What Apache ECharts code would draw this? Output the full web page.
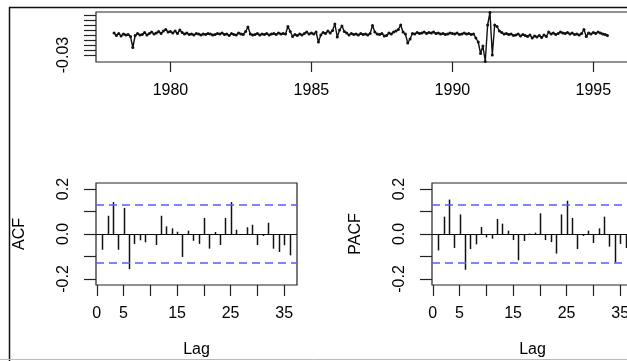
<!DOCTYPE html>
<html>
<head>
<meta charset="utf-8">
<script src="https://cdn.jsdelivr.net/npm/echarts@6/dist/echarts.min.js"></script>
<style>html,body{margin:0;padding:0;background:#fff}#c{width:627px;height:361px}</style>
</head>
<body>
<div id="c"></div>
<script>
// ---- data ----
const tsStart = 1978;
const tsFreq = 12;
const tsValues = [
  0.014, 0.009, 0.013, 0.008, 0.012, 0.010, 0.011, 0.007, -0.015, 0.009, 0.013, 0.010,
  0.011, 0.015, 0.010, 0.013, 0.016, 0.012, 0.014, 0.017, 0.013, 0.018, 0.021, 0.016,
  0.017, 0.014, 0.018, 0.013, 0.020, 0.015, 0.012, 0.014, 0.011, 0.012, 0.010, 0.013,
  0.012, 0.010, 0.012, 0.011, 0.013, 0.012, 0.010, 0.011, 0.013, 0.012, 0.014, 0.011,
  0.012, 0.009, 0.013, 0.011, 0.010, 0.014, 0.012, 0.011, 0.017, 0.026, 0.012, 0.010,
  0.011, 0.013, 0.010, 0.012, 0.011, 0.013, 0.010, 0.012, 0.013, 0.011, 0.014, 0.012,
  0.013, 0.012, 0.027, 0.017, 0.007, 0.011, 0.009, 0.012, 0.010, 0.013, 0.016, 0.012,
  0.014, 0.012, 0.016, -0.004, 0.010, 0.015, 0.013, 0.018, 0.014, 0.019, 0.032, 0.006,
  0.020, 0.028, 0.017, 0.014, 0.010, 0.013, 0.011, 0.012, 0.010, 0.013, 0.011, 0.012,
  0.010, 0.013, 0.029, 0.016, 0.012, 0.011, 0.013, 0.008, 0.009, 0.014, 0.012, 0.016,
  0.018, 0.021, 0.030, 0.016, 0.012, -0.006, 0.002, 0.013, 0.012, 0.015, 0.013, 0.014,
  0.016, 0.013, 0.015, 0.014, 0.016, 0.013, 0.014, 0.012, 0.013, 0.011, 0.012, 0.014,
  0.013, 0.012, 0.014, 0.011, 0.012, 0.014, 0.012, 0.013, 0.011, 0.012, 0.004, -0.004,
  -0.027, -0.012, -0.043, 0.030, 0.055, -0.030, 0.030, 0.027, 0.018, 0.015, 0.012, 0.013,
  0.011, 0.012, 0.009, 0.010, 0.012, 0.008, 0.011, 0.009, 0.007, 0.010, 0.004, 0.008,
  0.006, 0.009, 0.005, 0.010, 0.007, 0.016, 0.012, 0.014, 0.011, 0.013, 0.016, 0.014,
  0.013, 0.015, 0.012, 0.014, 0.011, 0.012, 0.010, 0.013, 0.021, 0.007, 0.014, 0.012,
  0.015, 0.013, 0.016, 0.014, 0.012, 0.011, 0.009
];
const lags = [1,2,3,4,5,6,7,8,9,10,11,12,13,14,15,16,17,18,19,20,21,22,23,24,25,26,27,28,29,30,31,32,33,34,35,36];
const acfValues = [
  -0.070, 0.081, 0.142, -0.070, 0.116, -0.156, -0.044, -0.028, -0.037, -0.003,
  -0.049, 0.081, 0.034, 0.025, 0.010, -0.102, 0.015, -0.030, -0.044, 0.071,
  -0.065, 0.009, -0.049, 0.071, 0.142, 0.019, -0.002, 0.030, 0.041, -0.049,
  -0.009, 0.050, -0.065, -0.080, -0.050, -0.095
];
const pacfValues = [
  -0.073, 0.077, 0.153, -0.062, 0.087, -0.159, -0.067, -0.046, 0.031, -0.015,
  -0.021, 0.067, 0.046, 0.015, -0.027, -0.117, -0.031, 0.002, 0.006, 0.092,
  -0.027, -0.036, -0.087, 0.087, 0.148, 0.071, -0.067, -0.009, 0.015, -0.040,
  0.025, 0.077, -0.056, -0.127, -0.044, -0.062
];
const yearTicks = [1980, 1985, 1990, 1995];
const tsYTicks = [-0.03, -0.02, -0.01, 0, 0.01, 0.02, 0.03, 0.04, 0.05];
const tsYLabels = [-0.03];
const corrTicks = [-0.2, -0.1, 0, 0.1, 0.2];
const corrLabels = [-0.2, 0, 0.2];
const lagTicks = [0, 5, 10, 15, 20, 25, 30, 35];
const lagLabels = [0, 5, 15, 25, 35];

// ---- chart ----
const FONT = "'Liberation Sans', Arial, sans-serif";
const TXT = '#000';
const FS = 16;
const ci = 1.96 / Math.sqrt(tsValues.length);

function stemRender(params, api) {
  const x = api.value(0), y = api.value(1);
  const p0 = api.coord([x, 0]);
  const p1 = api.coord([x, y]);
  return { type: 'line', shape: { x1: Math.round(p0[0]) + 0.5, y1: p0[1], x2: Math.round(p1[0]) + 0.5, y2: p1[1] },
           style: { stroke: '#111', lineWidth: 1.5 } };
}
const refLines = {
  silent: true, symbol: 'none', animation: false,
  label: { show: false },
  data: [
    { yAxis: 0, lineStyle: { color: '#111', type: 'solid', width: 1.2 } },
    { yAxis: ci, lineStyle: { color: '#5a5aff', type: [8, 5], width: 1.6 } },
    { yAxis: -ci, lineStyle: { color: '#5a5aff', type: [8, 5], width: 1.6 } }
  ]
};

const gridBase = { show: true, borderColor: '#222', borderWidth: 1.2, backgroundColor: 'transparent', containLabel: false, outerBoundsMode: 'none' };
const tickStyle = { show: true, length: 11, lineStyle: { color: '#222', width: 1.2 } };
const lblBase = { color: TXT, fontFamily: FONT, fontSize: FS };

function lagAxis(gi) {
  return {
    type: 'value', gridIndex: gi, min: -0.15, max: 37.4,
    axisLine: { show: false, onZero: false },
    splitLine: { show: false },
    axisTick: Object.assign({}, tickStyle, { customValues: lagTicks }),
    axisLabel: Object.assign({}, lblBase, { margin: 21, customValues: lagLabels, formatter: v => String(v) }),
    name: 'Lag', nameLocation: 'middle', nameGap: 57,
    nameTextStyle: { color: TXT, fontFamily: FONT, fontSize: FS }
  };
}
function corrAxis(gi, name) {
  return {
    type: 'value', gridIndex: gi, min: -0.2267, max: 0.2267,
    axisLine: { show: false, onZero: false },
    splitLine: { show: false },
    axisTick: Object.assign({}, tickStyle, { length: 12, customValues: corrTicks }),
    axisLabel: Object.assign({}, lblBase, { rotate: 90, margin: 24, customValues: corrLabels, formatter: v => v.toFixed(1) }),
    name: name, nameLocation: 'middle', nameGap: 68, nameRotate: 90,
    nameTextStyle: { color: TXT, fontFamily: FONT, fontSize: FS }
  };
}

const chart = echarts.init(document.getElementById('c'), null, { renderer: 'canvas' });
chart.setOption({
  animation: false,
  backgroundColor: '#fff',
  grid: [
    Object.assign({ left: 96, top: 12, width: 534, height: 50 }, gridBase),
    Object.assign({ left: 96, top: 183, width: 201, height: 102 }, gridBase),
    Object.assign({ left: 432, top: 183, width: 201, height: 102 }, gridBase)
  ],
  xAxis: [
    {
      type: 'value', gridIndex: 0, min: 1977.36, max: 1996.3,
      axisLine: { show: false, onZero: false },
      splitLine: { show: false },
      axisTick: Object.assign({}, tickStyle, { length: 10, customValues: yearTicks }),
      axisLabel: Object.assign({}, lblBase, { margin: 21, customValues: yearTicks, formatter: v => String(v) })
    },
    lagAxis(1),
    lagAxis(2)
  ],
  yAxis: [
    {
      type: 'value', gridIndex: 0, min: -0.044, max: 0.056,
      axisLine: { show: false, onZero: false },
      splitLine: { show: false },
      axisTick: Object.assign({}, tickStyle, { length: 12, customValues: tsYTicks }),
      axisLabel: Object.assign({}, lblBase, { rotate: 90, margin: 24, customValues: tsYLabels, formatter: v => v.toFixed(2) })
    },
    corrAxis(1, 'ACF'),
    corrAxis(2, 'PACF')
  ],
  series: [
    {
      type: 'line', xAxisIndex: 0, yAxisIndex: 0,
      data: tsValues.map((v, i) => [tsStart + i / tsFreq, v]),
      symbol: 'circle', symbolSize: 3, showSymbol: true,
      itemStyle: { color: '#111' },
      lineStyle: { color: '#111', width: 1.4 },
      clip: false
    },
    {
      type: 'custom', xAxisIndex: 1, yAxisIndex: 1,
      data: lags.map((l, i) => [l, acfValues[i]]),
      renderItem: stemRender,
      markLine: refLines
    },
    {
      type: 'custom', xAxisIndex: 2, yAxisIndex: 2,
      data: lags.map((l, i) => [l, pacfValues[i]]),
      renderItem: stemRender,
      markLine: refLines
    }
  ],
  graphic: [
    { type: 'line', silent: true, shape: { x1: 9.5, y1: 7, x2: 9.5, y2: 361 }, style: { stroke: '#111', lineWidth: 1.5 } },
    { type: 'line', silent: true, shape: { x1: 9, y1: 7.5, x2: 627, y2: 7.5 }, style: { stroke: '#111', lineWidth: 1.5 } },
    { type: 'line', silent: true, shape: { x1: 0, y1: 359.5, x2: 627, y2: 359.5 }, style: { stroke: '#bbb', lineWidth: 1 } }
  ]
});
</script>
</body>
</html>
